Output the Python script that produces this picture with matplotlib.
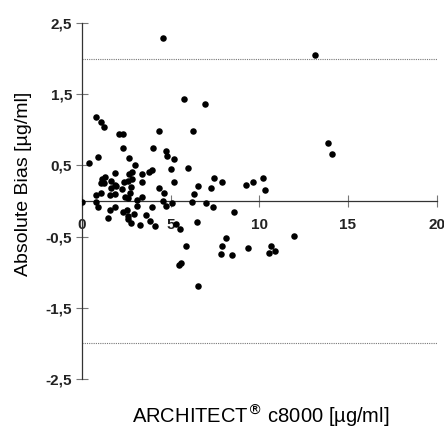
import matplotlib
matplotlib.use('Agg')
import matplotlib.pyplot as plt
from matplotlib import font_manager

conc = [4.57, 13.14, 13.85, 14.08, 5.76, 6.92, 0.78, 1.06, 1.23, 2.08,
        2.30, 4.35, 6.26, 2.30, 3.99, 4.74, 0.93, 2.68, 4.80, 5.18,
        0.42, 2.98, 5.03, 5.98, 5.18, 1.15, 1.31, 1.08, 1.27, 1.65,
        1.87, 1.89, 2.68, 2.83, 3.39, 3.79, 3.97, 2.40, 2.62, 2.81,
        3.41, 1.65, 1.95, 2.25, 2.77, 4.35, 4.65, 1.08, 1.57, 1.87,
        2.43, 2.62, 2.73, 3.11, 3.41, 0.00, 0.78, 0.90, 1.57, 1.87,
        2.34, 2.57, 2.62, 2.92, 1.49, 2.62, 3.61, 2.77, 3.28, 3.84,
        4.12, 3.11, 3.94, 4.57, 4.74, 5.11, 6.21, 6.32, 6.56, 7.28,
        7.00, 7.37, 7.45, 7.88, 8.59, 9.25, 9.63, 10.21, 10.34, 11.95,
        9.34, 10.66, 10.88, 10.56, 5.29, 5.53, 6.47, 5.89, 5.59, 5.46,
        6.56, 8.11, 7.88, 7.83, 8.46, 0.80]
bias = [2.30, 2.06, 0.82, 0.66, 1.43, 1.37, 1.18, 1.11, 1.04, 0.94,
        0.94, 0.98, 0.99, 0.75, 0.74, 0.71, 0.62, 0.61, 0.63, 0.59,
        0.54, 0.51, 0.45, 0.47, 0.265, 0.31, 0.335, 0.26, 0.25, 0.275,
        0.23, 0.40, 0.38, 0.405, 0.38, 0.405, 0.43, 0.265, 0.28, 0.31,
        0.265, 0.19, 0.205, 0.17, 0.195, 0.185, 0.115, 0.115, 0.09, 0.10,
        0.05, 0.04, 0.115, 0.02, 0.06, -0.01, -0.02, -0.09, -0.13, -0.09,
        -0.15, -0.12, -0.21, -0.18, -0.24, -0.25, -0.195, -0.31, -0.335, -0.275,
        -0.355, -0.07, -0.09, 0.00, -0.075, -0.025, -0.02, 0.10, 0.21, 0.19,
        -0.03, -0.09, 0.32, 0.265, -0.15, 0.22, 0.265, 0.33, 0.15, -0.49,
        -0.66, -0.63, -0.70, -0.735, -0.317, -0.40, -0.29, -0.64, -0.875, -0.90,
        -1.19, -0.52, -0.64, -0.75, -0.76, 0.09]

limits = [2.0, -2.0]
xticks = [0, 5, 10, 15, 20]
yticks = [2.5, 1.5, 0.5, -0.5, -1.5, -2.5]
ylabels = ['2,5', '1,5', '0,5', '-0,5', '-1,5', '-2,5']

names = {f.name for f in font_manager.fontManager.ttflist}
tick_font = 'Liberation Sans Narrow' if 'Liberation Sans Narrow' in names else 'Liberation Sans'

fig = plt.figure(figsize=(4.44, 4.34), dpi=100)
ax = fig.add_axes([0.1842, 0.1274, 0.7994, 0.8189])

for lim in limits:
    ax.plot([0, 20], [lim, lim], linestyle=(0, (1, 1)), color='#777777', linewidth=0.8)

ax.scatter(conc, bias, s=22, color='black', zorder=3, linewidths=0)

ax.set_xlim(0, 20)
ax.set_ylim(-2.5, 2.5)
ax.spines['top'].set_visible(False)
ax.spines['right'].set_visible(False)
ax.spines['bottom'].set_position(('data', 0))
ax.spines['left'].set_position(('data', 0))
for sp in ['bottom', 'left']:
    ax.spines[sp].set_linewidth(0.9)
    ax.spines[sp].set_color('#333333')

ax.set_xticks(xticks)
ax.set_xticklabels([str(t) for t in xticks])
ax.set_yticks(yticks)
ax.set_yticklabels(ylabels)
ax.tick_params(axis='both', direction='inout', length=8, width=0.8, color='#777777')
ax.tick_params(axis='x', pad=8)
ax.tick_params(axis='y', pad=3)
for lab in ax.get_xticklabels() + ax.get_yticklabels():
    lab.set_fontfamily(tick_font)
    lab.set_fontweight('bold')
    lab.set_fontsize(11)
    lab.set_color('#222222')

fig.text(0.588, 0.041, 'ARCHITECT$^{®}$ c8000 [µg/ml]', ha='center', va='center',
         fontsize=14.5, family='Liberation Sans')
fig.text(0.053, 0.576, 'Absolute Bias [µg/ml]', ha='center', va='center',
         rotation=90, fontsize=14, family='Liberation Sans')

fig.savefig('out.png', dpi=100)
